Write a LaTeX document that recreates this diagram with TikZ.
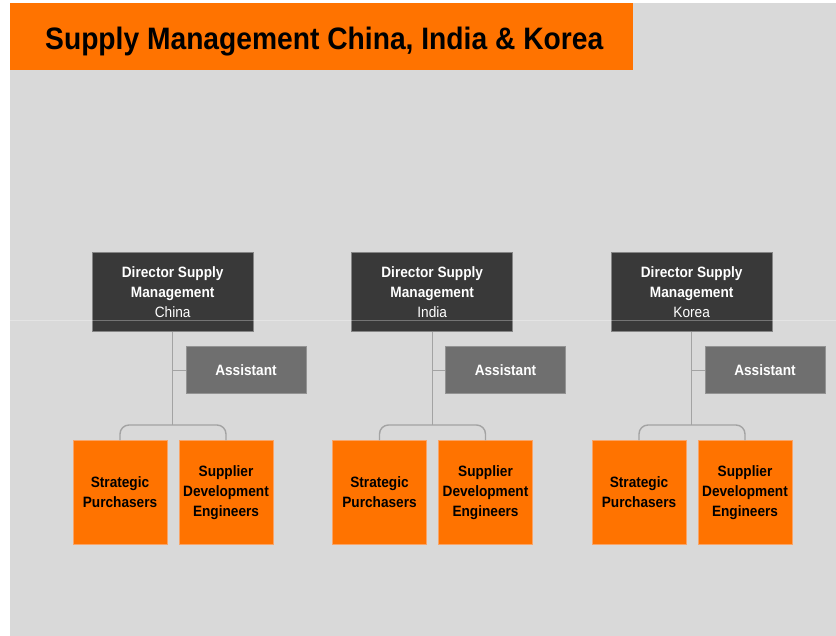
\documentclass[tikz,border=0pt]{standalone}
\usepackage{fontspec}
\setmainfont{Liberation Sans}
\newfontfamily\narrowsans[FakeStretch=0.91]{Liberation Sans}
\usetikzlibrary{positioning,calc}
\definecolor{page}{HTML}{D9D9D9}
\definecolor{brand}{HTML}{FF7300}
\definecolor{brandedge}{HTML}{F9A467}
\definecolor{dark}{HTML}{393939}
\definecolor{darkedge}{HTML}{858585}
\definecolor{mid}{HTML}{6F6F6F}
\definecolor{midedge}{HTML}{939393}
\definecolor{wirec}{HTML}{A3A3A3}
\tikzset{txt/.style={font=\narrowsans\fontsize{15}{20}\selectfont,align=center,inner sep=0pt},
  head/.style={txt,draw=darkedge,fill=dark,text=white,line width=1pt,minimum width=161pt,minimum height=79pt},
  helper/.style={txt,draw=midedge,fill=mid,text=white,line width=1pt,minimum width=120pt,minimum height=47pt},
  team/.style={txt,draw=brandedge,fill=brand,text=black,line width=1pt,minimum width=94pt,minimum height=103pt},
  link/.style={draw=wirec,line width=1.4pt}}

\begin{document}
\begin{tikzpicture}[x=1pt,y=-1pt]
\useasboundingbox (0,0) rectangle (836,636);
\fill[white] (0,0) rectangle (836,636);
\fill[page] (10,3) rectangle (836,636);
% title bar
\fill[brand] (10,3) rectangle (633,70);
\node[anchor=base west,inner sep=0pt,font=\narrowsans\bfseries\fontsize{31}{36}\selectfont] (title) at (45,50) {Supply Management China, India \& Korea};
% one block per country
\foreach \reg/\dx in {China/0,India/259.5,Korea/519}{
\begin{scope}[xshift=\dx pt]
\node[head] (dir\reg) at (172.7,292.5) {\textbf{Director Supply}\\\textbf{Management}\\\reg};
\node[helper] (asst\reg) at (246,370.5) {\textbf{Assistant}};
\node[team] (sp\reg) at (120,492.5) {\textbf{Strategic}\\\textbf{Purchasers}};
\node[team] (sde\reg) at (226,492.5) {\textbf{Supplier}\\\textbf{Development}\\\textbf{Engineers}};
\coordinate (fork\reg) at (172.7,425);
\draw[link] (dir\reg.south) -- (fork\reg);
\draw[link] (asst\reg.west -| dir\reg.south) -- (asst\reg.west);
\draw[link,rounded corners=9pt] (sp\reg.north) |- (fork\reg) -| (sde\reg.north);
\end{scope}}
% thin light streak across the page
\draw[white,opacity=0.3,line width=1pt] (10,321) -- (836,321);
\end{tikzpicture}
\end{document}
